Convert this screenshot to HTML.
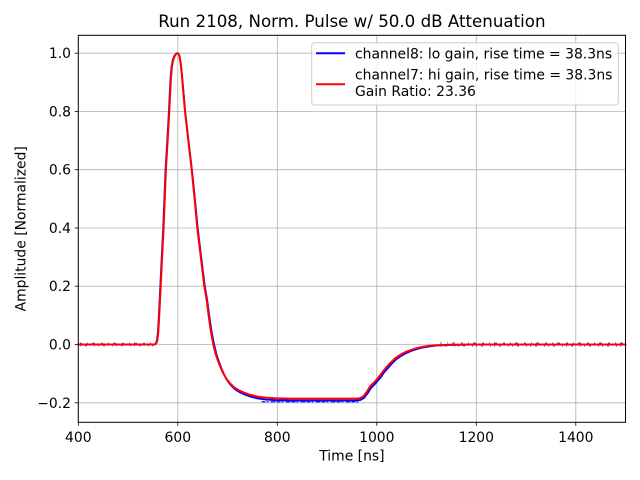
<!DOCTYPE html>
<html><head><meta charset="utf-8"><style>
html,body{margin:0;padding:0;background:#fff;}
svg{display:block;font-family:"DejaVu Sans","Liberation Sans",sans-serif;}
</style></head><body>
<svg width="640" height="480" viewBox="0 0 640 480" xmlns="http://www.w3.org/2000/svg">
<rect x="0" y="0" width="640" height="480" fill="#fff"/>
<!-- grid -->
<g stroke="#b0b0b0" stroke-width="0.8">
<line x1="177.8" y1="35.3" x2="177.8" y2="422.3"/>
<line x1="277.3" y1="35.3" x2="277.3" y2="422.3"/>
<line x1="376.8" y1="35.3" x2="376.8" y2="422.3"/>
<line x1="476.3" y1="35.3" x2="476.3" y2="422.3"/>
<line x1="575.8" y1="35.3" x2="575.8" y2="422.3"/>
<line x1="78.3" y1="402.8" x2="625.5" y2="402.8"/>
<line x1="78.3" y1="344.5" x2="625.5" y2="344.5"/>
<line x1="78.3" y1="286.2" x2="625.5" y2="286.2"/>
<line x1="78.3" y1="228.0" x2="625.5" y2="228.0"/>
<line x1="78.3" y1="169.7" x2="625.5" y2="169.7"/>
<line x1="78.3" y1="111.5" x2="625.5" y2="111.5"/>
<line x1="78.3" y1="53.2" x2="625.5" y2="53.2"/>
</g>
<!-- blue series -->
<g fill="none" stroke="#0000ff" stroke-linejoin="round" stroke-linecap="round">
<polyline stroke-width="1.8" points="78.3,344.5 154.5,344.5 155.9,343.3 157,340 157.9,332 158.6,320 160.3,286.2 161.9,253.3 163.2,228 165.5,169.7 167.3,140 168.9,111.5 169.8,92 170.6,77 171.6,66 172.9,59.5 174.6,55.5 176.2,53.6 177.5,53.2 178.6,53.8 179.6,56.5 180.6,62 181.8,73.3 183.5,92 185.2,111.5 188.5,140.6 191.9,169.7 194.9,198.9 197.7,228 201.2,257.1 204.8,286.2 207.2,300 209.3,316 211.5,331 214.1,344.5 216.4,354 218.7,361 221.5,368.5 224.3,375 227.5,380.8 231,385.3 235,389.2 239.3,392 245,394.7 251,396.8 258,398.5 266,399.6 276,400.2 290,400.5 356,400.5 360.5,400 364,398 367.5,393.5 371,388 374.5,384.5 377.5,381 381,377 384,372.5 387.5,368.5 391,364.5 396,359.5 401,356 406,353.2 411,351 417,349 424,347.3 431,346.2 437,345.5 450,345 476,344.5 625.5,344.5"/>
<g stroke-opacity="0.7" stroke-linecap="butt">
<line x1="80" y1="343.3" x2="154" y2="343.3" stroke-width="1" stroke-dasharray="2 5 1 4 3 6"/>
<line x1="80" y1="345.7" x2="154" y2="345.7" stroke-width="1" stroke-dasharray="1 4 2 7 1 3"/>
<line x1="440" y1="343.0" x2="625" y2="343.0" stroke-width="1" stroke-dasharray="2 5 1 4 3 6"/>
<line x1="440" y1="346.0" x2="625" y2="346.0" stroke-width="1" stroke-dasharray="1 4 2 7 1 3"/>
</g>
<line x1="262" y1="401.8" x2="358" y2="401.8" stroke-width="1.2" stroke-dasharray="3 2 1 3 4 2"/>
</g>
<!-- red series -->
<polyline fill="none" stroke="#ff0000" stroke-width="2" stroke-linejoin="round" stroke-linecap="round" points="78.3,344.5 154.9,344.5 156.3,343.3 157.4,340 158.3,332 159,320 160.7,286.2 162.3,253.3 163.6,228 165.9,169.7 167.7,140 169.3,111.5 170.2,92 171.0,77 172.0,66 173.3,59.5 175,55.5 176.5,53.6 177.5,53.2 178.5,53.8 179.5,56.5 180.5,62 181.7,73.3 183.3,92 185,111.5 188.3,140.6 191.7,169.7 194.6,198.9 197.3,228 200.8,257.1 204.3,286.2 206.7,300 208.7,316 210.8,331 213.3,344.5 215.5,353.5 217.7,360 220.5,367.2 223.3,373.3 226.5,379 230,383.3 234,387.2 238.3,390 244,392.7 250,394.8 257,396.5 265,397.6 275,398.2 290,398.6 356,398.6 360,398.2 363.3,396.5 366.7,392 370,386.5 373.5,383 376.8,379.5 380,375.5 383.3,371 386.7,367 390,363.3 395,358.5 400,355 405,352.3 410,350.3 416,348.3 423.3,346.7 430,345.8 436.7,345.2 450,344.8 476,344.5 625.5,344.5"/>
<!-- axes frame -->
<rect x="78.3" y="35.3" width="547.2" height="387" fill="none" stroke="#000" stroke-width="1"/>
<!-- ticks -->
<g stroke="#000" stroke-width="0.8">
<line x1="78.3" y1="422.3" x2="78.3" y2="425.8"/>
<line x1="177.8" y1="422.3" x2="177.8" y2="425.8"/>
<line x1="277.3" y1="422.3" x2="277.3" y2="425.8"/>
<line x1="376.8" y1="422.3" x2="376.8" y2="425.8"/>
<line x1="476.3" y1="422.3" x2="476.3" y2="425.8"/>
<line x1="575.8" y1="422.3" x2="575.8" y2="425.8"/>
<line x1="74.8" y1="402.8" x2="78.3" y2="402.8"/>
<line x1="74.8" y1="344.5" x2="78.3" y2="344.5"/>
<line x1="74.8" y1="286.2" x2="78.3" y2="286.2"/>
<line x1="74.8" y1="228.0" x2="78.3" y2="228.0"/>
<line x1="74.8" y1="169.7" x2="78.3" y2="169.7"/>
<line x1="74.8" y1="111.5" x2="78.3" y2="111.5"/>
<line x1="74.8" y1="53.2" x2="78.3" y2="53.2"/>
</g>
<g font-size="13.9" fill="#000">
<g text-anchor="middle">
<text x="78.3" y="442">400</text>
<text x="177.8" y="442">600</text>
<text x="277.3" y="442">800</text>
<text x="376.8" y="442">1000</text>
<text x="476.3" y="442">1200</text>
<text x="575.8" y="442">1400</text>
<text x="351.9" y="460.5">Time [ns]</text>
</g>
<g text-anchor="end">
<text x="71" y="407.8">−0.2</text>
<text x="71" y="349.5">0.0</text>
<text x="71" y="291.2">0.2</text>
<text x="71" y="233.0">0.4</text>
<text x="71" y="174.7">0.6</text>
<text x="71" y="116.5">0.8</text>
<text x="71" y="58.2">1.0</text>
</g>
<text transform="translate(25.5,228.8) rotate(-90)" text-anchor="middle">Amplitude [Normalized]</text>
</g>
<text x="351.9" y="27" font-size="16.67" text-anchor="middle" fill="#000">Run 2108, Norm. Pulse w/ 50.0 dB Attenuation</text>
<!-- legend -->
<rect x="311.7" y="42.7" width="306.6" height="62.3" rx="3" ry="3" fill="rgba(255,255,255,0.8)" stroke="#cccccc" stroke-width="1"/>
<line x1="316" y1="53.3" x2="345" y2="53.3" stroke="#0000ff" stroke-width="2"/>
<line x1="316" y1="84.3" x2="345" y2="84.3" stroke="#ff0000" stroke-width="2"/>
<g font-size="13.9" fill="#000">
<text x="355" y="58.5">channel8: lo gain, rise time = 38.3ns</text>
<text x="355" y="79.7">channel7: hi gain, rise time = 38.3ns</text>
<text x="355" y="96">Gain Ratio: 23.36</text>
</g>
</svg>
</body></html>
